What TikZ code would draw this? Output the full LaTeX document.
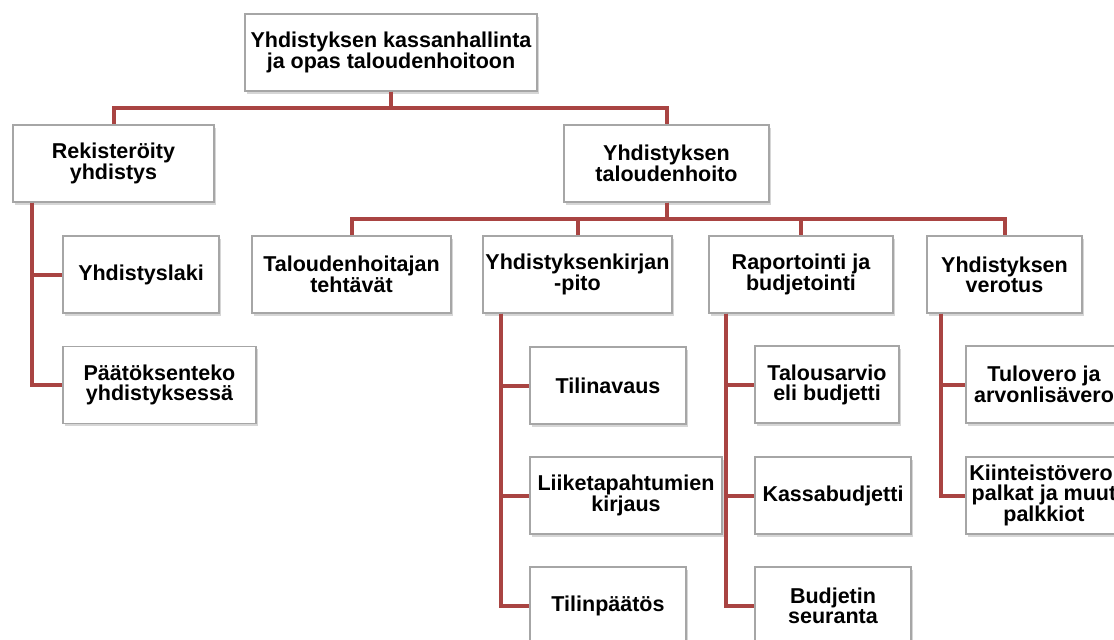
\documentclass[tikz,border=0pt]{standalone}
\usepackage{fontspec}
\setmainfont{Liberation Sans}
\usetikzlibrary{shadows}
\definecolor{linkred}{HTML}{A94442}
\definecolor{boxgray}{HTML}{A6A6A6}

\begin{document}
\begin{tikzpicture}[x=1pt, y=-1pt,
  topic/.style={draw=boxgray, line width=1.2pt, fill=white, align=center,
    minimum height=77pt, inner sep=0pt,
    font=\bfseries\fontsize{21.5}{20}\selectfont,
    drop shadow={shadow xshift=2pt, shadow yshift=-2.5pt, opacity=0.35, fill=black!45}},
  link/.style={draw=linkred, line width=4pt}]
\def\u{16}

\useasboundingbox (0, 0) rectangle (1114, 640);
\clip (0, 0) rectangle (1114, 640);
\fill[white] (0, 0) rectangle (1114, 640);

\node (root) [topic, minimum width=292pt] at (391, 52.5) {Yhdistyksen kassanhallinta\\ja opas taloudenhoitoon};
\node (reg) [topic, minimum width=201pt] at (113.5, 163.5) {Rekisteröity\\yhdistys};
\node (tal) [topic, minimum width=205pt] at (666.5, 163.5) {Yhdistyksen\\taloudenhoito};
\node (laki) [topic, minimum width=156pt] at (141, 274.5) {Yhdistyslaki};
\node (paat) [topic, minimum width=193pt] at (159.5, 385) {Päätöksenteko\\yhdistyksessä};
\node (hoit) [topic, minimum width=199pt] at (351.5, 274.5) {Taloudenhoitajan\\tehtävät};
\node (kirj) [topic, minimum width=189pt] at (577.5, 274.5) {Yhdistyksenkirjan\\-pito};
\node (rap) [topic, minimum width=184pt] at (801, 274.5) {Raportointi ja\\budjetointi};
\node (vero) [topic, minimum width=155pt] at (1004.5, 274.5) {Yhdistyksen\\verotus};
\node (avaus) [topic, minimum width=156pt] at (608, 385.5) {Tilinavaus};
\node (liike) [topic, minimum width=192pt] at (626, 495.5) {Liiketapahtumien\\kirjaus};
\node (tpaat) [topic, minimum width=156pt] at (608, 605.5) {Tilinpäätös};
\node (arvio) [topic, minimum width=144pt] at (827, 384.5) {Talousarvio\\eli budjetti};
\node (kassa) [topic, minimum width=156pt] at (833, 495.5) {Kassabudjetti};
\node (seur) [topic, minimum width=156pt] at (833, 605.5) {Budjetin\\seuranta};
\node (tulo) [topic, minimum width=156pt] at (1044, 384.5) {Tulovero ja\\arvonlisävero};
\node (kiint) [topic, minimum width=156pt] at (1044, 495.5) {Kiinteistövero,\\palkat ja muut\\palkkiot};

\draw [link] (root.south) -- ++(0, \u) -| (reg.north);
\draw [link] (root.south) -- ++(0, \u) -| (tal.north);
\draw [link] (tal.south) -- ++(0, \u) -| (hoit.north);
\draw [link] (tal.south) -- ++(0, \u) -| (kirj.north);
\draw [link] (tal.south) -- ++(0, \u) -| (rap.north);
\draw [link] (tal.south) -- ++(0, \u) -| (vero.north);

\draw [link] ([xshift=20pt]reg.south west) |- (laki.west);
\draw [link] ([xshift=20pt]reg.south west) |- (paat.west);
\draw [link] ([xshift=19pt]kirj.south west) |- (avaus.west);
\draw [link] ([xshift=19pt]kirj.south west) |- (liike.west);
\draw [link] ([xshift=19pt]kirj.south west) |- (tpaat.west);
\draw [link] ([xshift=18pt]rap.south west) |- (arvio.west);
\draw [link] ([xshift=18pt]rap.south west) |- (kassa.west);
\draw [link] ([xshift=18pt]rap.south west) |- (seur.west);
\draw [link] ([xshift=15pt]vero.south west) |- (tulo.west);
\draw [link] ([xshift=15pt]vero.south west) |- (kiint.west);
\end{tikzpicture}
\end{document}
